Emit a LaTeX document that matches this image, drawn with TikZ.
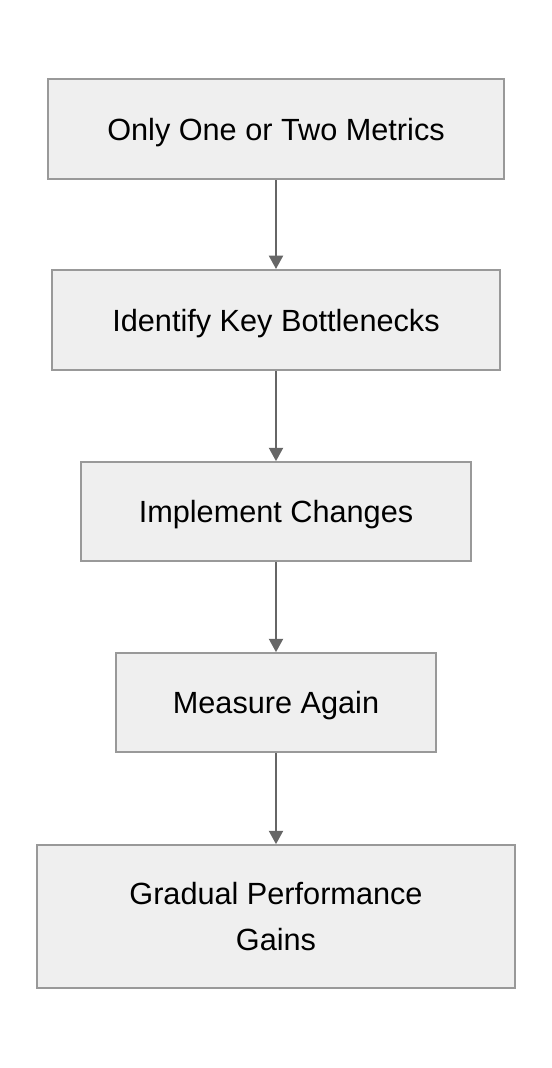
\documentclass[tikz,border=0pt]{standalone}
\usepackage{fontspec}
\setmainfont{Liberation Sans}
\usetikzlibrary{arrows.meta}
\definecolor{boxfill}{HTML}{EFEFEF}
\definecolor{boxline}{HTML}{999999}
\definecolor{arrowline}{HTML}{666666}
\tikzset{
  stepbox/.style={draw=boxline, fill=boxfill, line width=1.5pt,
    inner sep=0pt, align=center, font=\fontsize{23}{34}\selectfont},
  onerow/.style={text height=17pt, text depth=0pt},
  flow/.style={draw=arrowline, line width=1.5pt,
    -{Triangle[length=10pt,width=10.5pt]}}
}
\begin{document}
\begin{tikzpicture}[x=0.75pt,y=-0.75pt]
  \useasboundingbox (0,0) rectangle (552,1068);
  \node[stepbox, onerow, minimum width=342pt, minimum height=75pt] (0) at (276,129) {Only One or Two Metrics};
  \node[stepbox, onerow, minimum width=336pt, minimum height=75pt] (1) at (276,320) {Identify Key Bottlenecks};
  \node[stepbox, onerow, minimum width=292pt, minimum height=74pt] (2) at (276,511.5) {Implement Changes};
  \node[stepbox, onerow, minimum width=240pt, minimum height=74pt] (3) at (276,702.5) {Measure Again};
  \node[stepbox, minimum width=358.5pt, minimum height=107pt] (4) at (276,916.5) {Gradual Performance\\Gains};
  \begin{scope}[flow]
    \draw (0) to (1);
    \draw (1) to (2);
    \draw (2) to (3);
    \draw (3) to (4);
  \end{scope}
\end{tikzpicture}
\end{document}
